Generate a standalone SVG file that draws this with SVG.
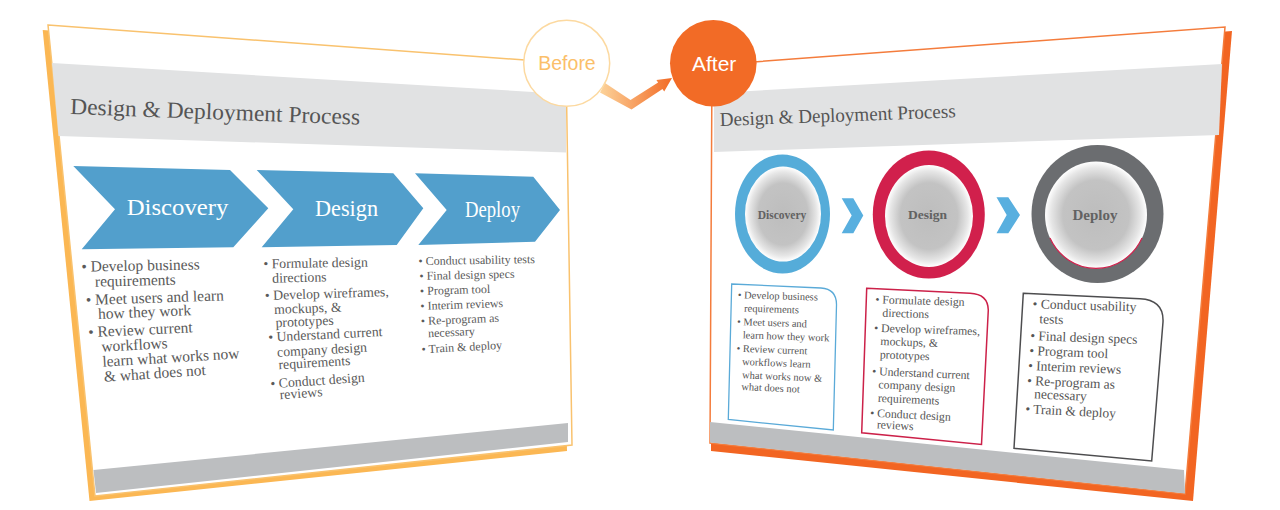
<svg xmlns="http://www.w3.org/2000/svg" width="1280" height="510" viewBox="0 0 1280 510">
<defs>
<style>
.sf{font-family:"Liberation Serif","Times New Roman",serif}
.ss{font-family:"Liberation Sans",Arial,sans-serif}
.ttl{font-family:"Liberation Serif",serif;fill:#555}
.l1{font-family:"Liberation Serif",serif;font-size:15.5px;fill:#5a5a5a}
.l2{font-family:"Liberation Serif",serif;font-size:13.8px;fill:#5a5a5a}
.l3{font-family:"Liberation Serif",serif;font-size:12px;fill:#5a5a5a}
.r1{font-family:"Liberation Serif",serif;font-size:10.5px;fill:#555}
.r2{font-family:"Liberation Serif",serif;font-size:11.8px;fill:#555}
.r3{font-family:"Liberation Serif",serif;font-size:13.5px;fill:#555}
.chev{fill:#529fcc}
.chevtxt{font-family:"Liberation Serif",serif;font-size:23.5px;fill:#fff}
.arr{fill:#58afdf}
.rl{font-family:"Liberation Serif",serif;font-weight:bold;fill:#626262}
.hdr{fill:#e1e2e3}
.ftr{fill:#bcbec0}
</style>
<radialGradient id="core" cx="0.5" cy="0.5" r="0.5">
<stop offset="0" stop-color="#bdbdbd"/>
<stop offset="0.65" stop-color="#c3c3c3"/>
<stop offset="0.88" stop-color="#e6e6e6"/>
<stop offset="1" stop-color="#ffffff"/>
</radialGradient>
<linearGradient id="arrowGrad" gradientUnits="userSpaceOnUse" x1="600" y1="0" x2="672" y2="0">
<stop offset="0" stop-color="#fcd39a"/>
<stop offset="1" stop-color="#f26b26"/>
</linearGradient>
</defs>
<rect width="1280" height="510" fill="#fff"/>

<g id="slide-before">
<polygon points="42.7,30 560,68 567,451 89.5,501" fill="#fbb753"/>
<polygon points="48,25 566,63 572,445 95,496" fill="#fff" stroke="#f9c26e" stroke-width="1.5"/>
<polygon class="hdr" points="52,63 566,94 566,152.5 58.5,136"/>
<polygon class="ftr" points="93.5,470 568,423 568,442 96,493"/>
<text class="ttl" x="70" y="114" font-size="23" textLength="290" lengthAdjust="spacingAndGlyphs" transform="rotate(2.1 70 114)">Design &amp; Deployment Process</text>
</g>

<g id="chevron-discovery">
<polygon class="chev" points="73.3,166 230,170 268.3,208.3 233.3,247.3 81.7,249.3 115,209.3"/>
<text class="chevtxt" x="126.7" y="215" textLength="101.7" lengthAdjust="spacingAndGlyphs">Discovery</text>
</g>
<g id="chevron-design">
<polygon class="chev" points="256.7,170 393.3,173.3 423.3,208.3 396.7,245 261.7,247.3 293.3,209.3"/>
<text class="chevtxt" x="315" y="215.7" textLength="63" lengthAdjust="spacingAndGlyphs">Design</text>
</g>
<g id="chevron-deploy">
<polygon class="chev" points="415,173.3 533.3,176.7 560,210 535,241.7 418.3,245 446.7,210"/>
<text class="chevtxt" x="465" y="216.7" textLength="55" lengthAdjust="spacingAndGlyphs">Deploy</text>
</g>

<g id="before-list-discovery">
<text class="l1" x="81.5" y="271.7" transform="rotate(-1.1 81.5 271.7)">• Develop business</text>
<text class="l1" x="95" y="286.7" transform="rotate(-1.4 95 286.7)">requirements</text>
<text class="l1" x="86" y="305" transform="rotate(-1.9 86 305)">• Meet users and learn</text>
<text class="l1" x="98.3" y="319" transform="rotate(-2.3 98.3 319)">how they work</text>
<text class="l1" x="88.5" y="337.3" transform="rotate(-2.7 88.5 337.3)">• Review current</text>
<text class="l1" x="101.7" y="351.7" transform="rotate(-3.1 101.7 351.7)">workflows</text>
<text class="l1" x="102.7" y="366.7" transform="rotate(-3.5 102.7 366.7)">learn what works now</text>
<text class="l1" x="104.3" y="381.7" transform="rotate(-3.8 104.3 381.7)">&amp; what does not</text>
</g>
<g id="before-list-design">
<text class="l2" x="263.4" y="268.3" transform="rotate(-0.95 263.4 268.3)">• Formulate design</text>
<text class="l2" x="272.3" y="282.7" transform="rotate(-1.35 272.3 282.7)">directions</text>
<text class="l2" x="265" y="300" transform="rotate(-1.8 265 300)">• Develop wireframes,</text>
<text class="l2" x="274.3" y="314" transform="rotate(-2.1 274.3 314)">mockups, &amp;</text>
<text class="l2" x="275.7" y="327.3" transform="rotate(-2.5 275.7 327.3)">prototypes</text>
<text class="l2" x="268.4" y="341.7" transform="rotate(-2.8 268.4 341.7)">• Understand current</text>
<text class="l2" x="277.3" y="356.7" transform="rotate(-3.2 277.3 356.7)">company design</text>
<text class="l2" x="278.7" y="369.3" transform="rotate(-3.5 278.7 369.3)">requirements</text>
<text class="l2" x="270.7" y="388.3" transform="rotate(-4 270.7 388.3)">• Conduct design</text>
<text class="l2" x="280" y="399.3" transform="rotate(-4.2 280 399.3)">reviews</text>
</g>
<g id="before-list-deploy">
<text class="l3" x="418.5" y="265" transform="rotate(-0.95 418.5 265)">• Conduct usability tests</text>
<text class="l3" x="419.5" y="280" transform="rotate(-1.3 419.5 280)">• Final design specs</text>
<text class="l3" x="420.1" y="295" transform="rotate(-1.7 420.1 295)">• Program tool</text>
<text class="l3" x="420.5" y="310" transform="rotate(-2.05 420.5 310)">• Interim reviews</text>
<text class="l3" x="421.1" y="325" transform="rotate(-2.4 421.1 325)">• Re-program as</text>
<text class="l3" x="428.3" y="337.3" transform="rotate(-2.7 428.3 337.3)">necessary</text>
<text class="l3" x="421.8" y="353.3" transform="rotate(-3.1 421.8 353.3)">• Train &amp; deploy</text>
</g>

<g id="slide-after">
<polygon points="712,70 1232,31 1193,501 711,451" fill="#f26522"/>
<polygon points="712,65 1225,27 1185,494 710,443" fill="#fff" stroke="#f47c3c" stroke-width="1.5"/>
<polygon class="hdr" points="714,93 1222,64 1219,135 714,152"/>
<polygon class="ftr" points="710,422 1184,470 1185,493.5 710,442.5"/>
<text class="ttl" x="720" y="126" font-size="19.5" textLength="236" lengthAdjust="spacingAndGlyphs" transform="rotate(-2.1 720 126)">Design &amp; Deployment Process</text>
</g>

<g id="ring-discovery">
<ellipse cx="782.5" cy="214" rx="47.5" ry="59.5" fill="#55acd9"/>
<ellipse cx="783" cy="214" rx="38" ry="47.5" fill="url(#core)"/>
<text class="rl" x="782" y="219" font-size="11.5" text-anchor="middle">Discovery</text>
</g>
<g id="ring-design">
<ellipse cx="928.8" cy="214.5" rx="56" ry="64" fill="#d1204c"/>
<ellipse cx="929" cy="216" rx="44" ry="51" fill="url(#core)"/>
<text class="rl" x="927.5" y="219" font-size="13.5" text-anchor="middle">Design</text>
</g>
<g id="ring-deploy">
<ellipse cx="1097.5" cy="214" rx="66" ry="69" fill="#6b6d70"/>
<ellipse cx="1096" cy="215" rx="51" ry="53.5" fill="url(#core)"/>
<path d="M1050,238 A51,53.5 0 0 0 1142,238" fill="none" stroke="#d1204c" stroke-width="1.2"/>
<text class="rl" x="1095" y="220" font-size="15" text-anchor="middle">Deploy</text>
</g>

<g id="box-discovery">
<path d="M731.7,284 L821,288 Q836.7,289 836.5,305 L833.3,430 L728.3,419.5 Z" fill="#fff" stroke="#5aaad8" stroke-width="1.3"/>
<text class="r1" x="737.7" y="298.3" transform="rotate(1.6 737.7 298.3)">• Develop business</text>
<text class="r1" x="744" y="311.7" transform="rotate(1.75 744 311.7)">requirements</text>
<text class="r1" x="737" y="325" transform="rotate(1.9 737 325)">• Meet users and</text>
<text class="r1" x="742.7" y="338.3" transform="rotate(2.05 742.7 338.3)">learn how they work</text>
<text class="r1" x="736.4" y="351.7" transform="rotate(2.2 736.4 351.7)">• Review current</text>
<text class="r1" x="742" y="365" transform="rotate(2.35 742 365)">workflows learn</text>
<text class="r1" x="742" y="378.3" transform="rotate(2.5 742 378.3)">what works now &amp;</text>
<text class="r1" x="741.3" y="390" transform="rotate(2.65 741.3 390)">what does not</text>
</g>
<g id="box-design">
<path d="M866.7,288.3 L970,293.2 Q988,294 988.3,310 L981.5,444.5 L861.7,432.7 Z" fill="#fff" stroke="#cc2149" stroke-width="1.5"/>
<text class="r2" x="875.2" y="303.3" transform="rotate(1.65 875.2 303.3)">• Formulate design</text>
<text class="r2" x="882.3" y="316.7" transform="rotate(1.8 882.3 316.7)">directions</text>
<text class="r2" x="873.9" y="331.7" transform="rotate(1.95 873.9 331.7)">• Develop wireframes,</text>
<text class="r2" x="880.3" y="345" transform="rotate(2.1 880.3 345)">mockups, &amp;</text>
<text class="r2" x="879.7" y="358.3" transform="rotate(2.3 879.7 358.3)">prototypes</text>
<text class="r2" x="871.9" y="375" transform="rotate(2.45 871.9 375)">• Understand current</text>
<text class="r2" x="878.3" y="388.3" transform="rotate(2.6 878.3 388.3)">company design</text>
<text class="r2" x="877.7" y="401.7" transform="rotate(2.75 877.7 401.7)">requirements</text>
<text class="r2" x="869.9" y="416.7" transform="rotate(2.95 869.9 416.7)">• Conduct design</text>
<text class="r2" x="876.7" y="428.3" transform="rotate(3.05 876.7 428.3)">reviews</text>
</g>
<g id="box-deploy">
<path d="M1023.3,293.3 L1140,298.8 Q1164,300 1163,322 L1151.7,461 L1014,448.3 Z" fill="#fff" stroke="#4d4d4f" stroke-width="1.5"/>
<text class="r3" x="1032.6" y="308.3" transform="rotate(1.7 1032.6 308.3)">• Conduct usability</text>
<text class="r3" x="1039.3" y="323.3" transform="rotate(1.85 1039.3 323.3)">tests</text>
<text class="r3" x="1030.2" y="340" transform="rotate(2.05 1030.2 340)">• Final design specs</text>
<text class="r3" x="1029.2" y="355" transform="rotate(2.25 1029.2 355)">• Program tool</text>
<text class="r3" x="1027.9" y="370" transform="rotate(2.4 1027.9 370)">• Interim reviews</text>
<text class="r3" x="1026.9" y="385" transform="rotate(2.6 1026.9 385)">• Re-program as</text>
<text class="r3" x="1034" y="398.3" transform="rotate(2.75 1034 398.3)">necessary</text>
<text class="r3" x="1025.2" y="413.3" transform="rotate(2.9 1025.2 413.3)">• Train &amp; deploy</text>
</g>

<g id="connectors">
<polygon class="arr" points="841.7,198.3 853.3,198.3 863.3,215.5 853.3,233.3 841.7,233.3 851.7,215.5"/>
<polygon class="arr" points="996.5,197.3 1008.3,197.3 1020,215 1008.3,233.3 996.5,233.3 1006.7,215"/>
<polygon points="605,83 630.5,100 658.1,82.4 656.4,79.9 672,78 664.2,91.5 662.5,89 631.5,109.5 600,92.5" fill="url(#arrowGrad)"/>
</g>

<g id="badge-before">
<circle cx="566.7" cy="63.3" r="43" fill="#fff" stroke="#fcd9a0" stroke-width="1.5"/>
<text class="ss" x="567" y="70" font-size="19.5" fill="#fbbf6a" text-anchor="middle">Before</text>
</g>
<g id="badge-after">
<circle cx="713.3" cy="63.3" r="43.3" fill="#f26b26"/>
<text class="ss" x="714.2" y="70.5" font-size="21" fill="#fff" text-anchor="middle">After</text>
</g>
</svg>
